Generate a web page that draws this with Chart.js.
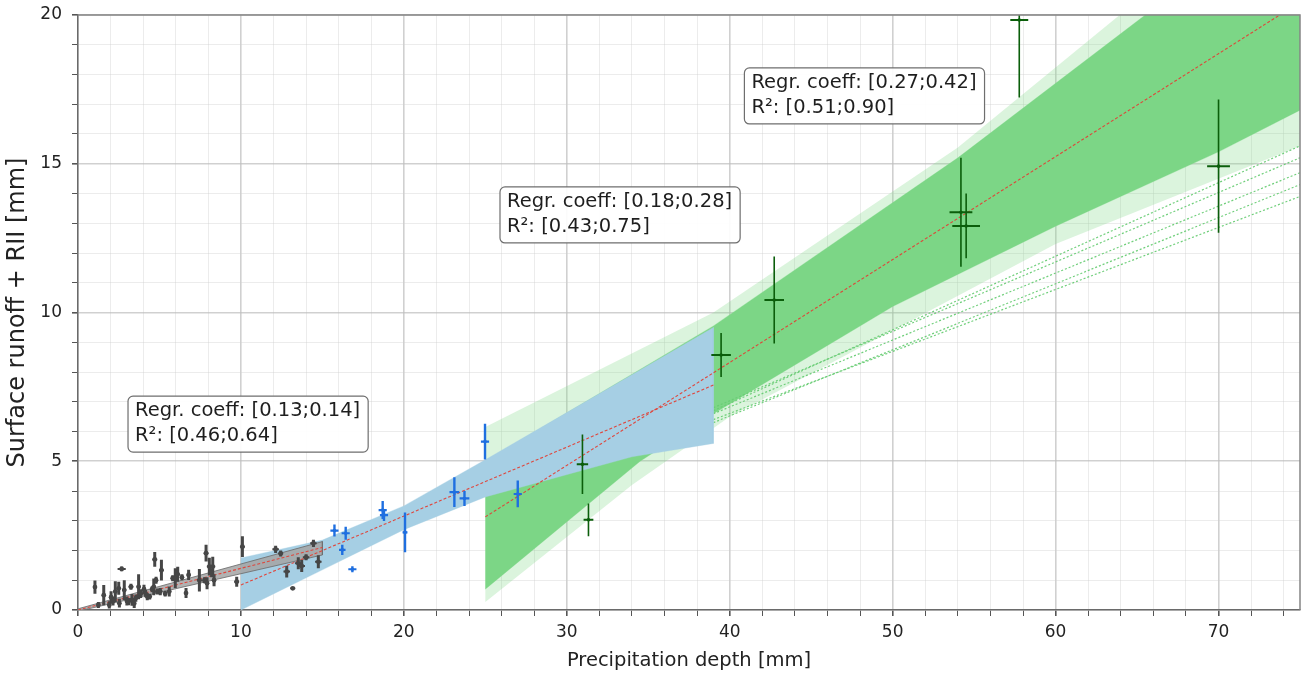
<!DOCTYPE html>
<html>
<head>
<meta charset="utf-8">
<script src="https://cdn.jsdelivr.net/npm/chart.js@4.4.1/dist/chart.umd.min.js"></script>
<style>
  html, body { margin: 0; padding: 0; background: #fff; }
  #wrap { width: 1306px; height: 678px; }
</style>
</head>
<body>
<div id="wrap"><canvas id="app-chart"></canvas></div>
<script>
// ---------------------------------------------------------------------------
// Data
// ---------------------------------------------------------------------------

// axis ticks
var xMajorTicks = [0, 10, 20, 30, 40, 50, 60, 70];
var yMajorTicks = [0, 5, 10, 15, 20];

// small events (grey)
var greyX    = [1.04, 1.25, 1.58, 1.92, 2.03, 2.15, 2.29, 2.50, 2.54, 2.68, 2.84, 3.00, 3.10, 3.25, 3.31, 3.45, 3.55, 3.72, 3.85, 4.05,
                4.15, 4.25, 4.40, 4.55, 4.65, 4.71, 4.79, 4.87, 5.05, 5.12, 5.35, 5.60, 5.81, 5.97, 6.12, 6.38, 6.63, 6.79, 7.45, 7.76,
                7.86, 7.92, 8.06, 8.20, 8.27, 8.35, 9.74, 10.09, 12.13, 12.44, 12.81, 13.18, 13.52, 13.73, 14.00, 14.45, 14.75];
var greyY    = [0.77, 0.17, 0.50, 0.17, 0.43, 0.30, 0.62, 0.73, 0.23, 1.38, 0.67, 0.30, 0.28, 0.78, 0.34, 0.22, 0.40, 0.78, 0.55, 0.70,
                0.55, 0.45, 0.45, 0.70, 0.78, 1.70, 1.00, 0.62, 0.62, 1.34, 0.55, 0.62, 1.07, 1.07, 1.20, 1.10, 0.57, 1.18, 1.00, 1.00,
                1.91, 0.90, 1.46, 1.25, 1.46, 1.00, 0.95, 2.13, 2.04, 1.90, 1.29, 0.73, 1.57, 1.48, 1.77, 2.24, 1.62];
var greyErrY = [0.22, 0.10, 0.34, 0.12, 0.20, 0.15, 0.35, 0.22, 0.15, 0.08, 0.33, 0.15, 0.12, 0.10, 0.20, 0.15, 0.12, 0.42, 0.15, 0.15,
                0.12, 0.12, 0.10, 0.10, 0.28, 0.25, 0.12, 0.10, 0.12, 0.35, 0.10, 0.17, 0.10, 0.33, 0.25, 0.10, 0.17, 0.17, 0.38, 0.10,
                0.28, 0.20, 0.30, 0.15, 0.33, 0.20, 0.17, 0.35, 0.12, 0.10, 0.20, 0.00, 0.20, 0.20, 0.10, 0.12, 0.22];
var greyErrX = [0.12, 0.10, 0.12, 0.10, 0.12, 0.10, 0.12, 0.12, 0.10, 0.25, 0.12, 0.10, 0.10, 0.15, 0.12, 0.10, 0.10, 0.12, 0.10, 0.12,
                0.10, 0.10, 0.10, 0.10, 0.12, 0.15, 0.12, 0.10, 0.10, 0.15, 0.10, 0.12, 0.10, 0.15, 0.12, 0.10, 0.12, 0.12, 0.15, 0.10,
                0.15, 0.10, 0.15, 0.10, 0.15, 0.10, 0.15, 0.15, 0.20, 0.15, 0.20, 0.15, 0.20, 0.20, 0.20, 0.20, 0.20];

// medium events (blue)
var blueX    = [15.74, 16.22, 16.43, 16.84, 18.70, 18.78, 20.07, 23.10, 23.72, 24.98, 26.99];
var blueY    = [2.67, 2.02, 2.58, 1.37, 3.36, 3.19, 2.61, 3.96, 3.75, 5.66, 3.90];
var blueErrY = [0.20, 0.17, 0.22, 0.10, 0.30, 0.20, 0.67, 0.50, 0.25, 0.60, 0.45];
var blueErrX = [0.25, 0.20, 0.25, 0.25, 0.25, 0.25, 0.15, 0.30, 0.30, 0.25, 0.25];

// large events (green)
var greenX    = [30.96, 31.33, 39.47, 42.73, 54.19, 54.51, 57.77, 70.00];
var greenY    = [4.90, 3.03, 8.57, 10.42, 13.37, 12.91, 19.83, 14.92];
var greenErrY = [1.00, 0.55, 0.74, 1.46, 1.83, 1.09, 2.60, 2.24];
var greenErrX = [0.35, 0.30, 0.60, 0.60, 0.70, 0.85, 0.55, 0.70];

// regression envelopes (outline of each band, upper edge then lower edge)
var greyBand  = [[0, 0.04], [15, 2.3], [15, 1.85], [0, -0.04]];
var blueBand  = [[10, 1.75], [15, 2.35], [20, 3.5], [25, 5.05], [39, 9.5],
                 [39, 5.6], [34, 5.15], [25, 3.8], [20, 2.7], [15, 1.35], [10, 0.0]];
var greenBand = [[25, 5.0], [39, 9.55], [54, 15.2], [65.5, 20], [75, 24.2],
                 [75, 16.8], [70, 15.4], [60, 12.9], [50, 10.2], [39, 6.6], [34.5, 5.0], [25, 0.7]];
var greenFringe = [[25, 6.15], [39, 10.0], [54, 15.55], [64.6, 20.3], [75, 24.8],
                   [75, 15.6], [60, 12.3], [40, 6.5], [34, 4.2], [25, 0.27]];
var greenOutliers = [
    [[39, 6.4], [75, 13.9]],
    [[39, 6.3], [75, 14.3]],
    [[39, 6.6], [75, 14.7]],
    [[39, 6.8], [75, 15.2]],
    [[39, 6.7], [75, 15.6]]
];

// median regression lines
var greyFit  = [[0, 0], [15, 2.1]];
var blueFit  = [[10, 0.84], [39, 7.56]];
var greenFit = [[25, 3.13], [75, 20.43]];

// text boxes (top-left corner in data units)
var notes = [
    { x: 3.07, y: 7.19, lines: ['Regr. coeff: [0.13;0.14]', 'R\u00b2: [0.46;0.64]'] },
    { x: 25.9, y: 14.22, lines: ['Regr. coeff: [0.18;0.28]', 'R\u00b2: [0.43;0.75]'] },
    { x: 40.9, y: 18.22, lines: ['Regr. coeff: [0.27;0.42]', 'R\u00b2: [0.51;0.90]'] }
];

// ---------------------------------------------------------------------------
// Helpers
// ---------------------------------------------------------------------------

function toPoints(pairs) {
    return pairs.map(function(p) { return { x: p[0], y: p[1] }; });
}

function verticalBars(xs, ys, errs) {
    var pts = [];
    xs.forEach(function(x, i) {
        pts.push({ x: x, y: ys[i] - errs[i] }, { x: x, y: ys[i] + errs[i] }, { x: x, y: null });
    });
    return pts;
}

function horizontalBars(xs, ys, errs) {
    var pts = [];
    xs.forEach(function(x, i) {
        pts.push({ x: x - errs[i], y: ys[i] }, { x: x + errs[i], y: ys[i] }, { x: null, y: ys[i] });
    });
    return pts;
}

function markers(xs, ys) {
    return xs.map(function(x, i) { return { x: x, y: ys[i] }; });
}

function shape(pairs, fillColor, edgeColor, width, order) {
    return {
        data: toPoints(pairs), showLine: true, fill: 'shape',
        backgroundColor: fillColor, borderColor: edgeColor, borderWidth: width,
        pointRadius: 0, order: order
    };
}

function segments(points, color, width, order, dash) {
    return {
        data: points, showLine: true, fill: false, spanGaps: false,
        borderColor: color, borderWidth: width, borderDash: dash || [],
        pointRadius: 0, order: order
    };
}

function dots(points, color, radius, order) {
    return {
        data: points, showLine: false,
        backgroundColor: color, borderColor: color, borderWidth: 0,
        pointRadius: radius, order: order
    };
}

var GREY = '#464646', BLUE = '#1f6fe0', GREEN = '#0b5e0b', RED = 'rgba(226,64,54,0.95)';

var datasets = [
    dots(markers(greyX, greyY), GREY, 2.4, 0),
    segments(verticalBars(greyX, greyY, greyErrY), GREY, 3, 0),
    segments(horizontalBars(greyX, greyY, greyErrX), GREY, 2, 0),
    dots(markers(blueX, blueY), BLUE, 1.8, 0),
    segments(verticalBars(blueX, blueY, blueErrY), BLUE, 2.4, 0),
    segments(horizontalBars(blueX, blueY, blueErrX), BLUE, 2.2, 0),
    dots(markers(greenX, greenY), GREEN, 1.8, 0),
    segments(verticalBars(greenX, greenY, greenErrY), GREEN, 1.6, 0),
    segments(horizontalBars(greenX, greenY, greenErrX), GREEN, 2, 0),

    segments(toPoints(greyFit), RED, 1.1, 1, [3, 2]),
    segments(toPoints(blueFit), RED, 1.1, 1, [3, 2]),
    segments(toPoints(greenFit), RED, 1.1, 1, [3, 2]),

    shape(greyBand, 'rgba(165,165,165,0.85)', 'rgba(110,110,110,0.85)', 1, 2),
    shape(blueBand, 'rgb(166,207,228)', 'rgba(166,207,228,0.6)', 0.6, 3),
    shape(greenBand, 'rgb(124,214,134)', 'rgba(124,214,134,0.5)', 0.6, 5),
    shape(greenFringe, 'rgba(124,214,134,0.28)', 'rgba(124,214,134,0)', 0, 6)
];

greenOutliers.forEach(function(l) {
    datasets.push(segments(toPoints(l), 'rgba(104,204,116,0.95)', 1.2, 4, [2, 2]));
});

// ---------------------------------------------------------------------------
// Frame and text boxes
// ---------------------------------------------------------------------------

var notesPlugin = {
    id: 'notes',
    afterDraw: function(chart) {
        var ctx = chart.ctx, a = chart.chartArea, sx = chart.scales.x, sy = chart.scales.y;
        ctx.save();
        ctx.strokeStyle = '#858585';
        ctx.lineWidth = 1.5;
        ctx.beginPath();
        ctx.moveTo(a.left, a.top);
        ctx.lineTo(a.right, a.top);
        ctx.lineTo(a.right, a.bottom);
        ctx.stroke();

        ctx.font = '19.5px "DejaVu Sans"';
        ctx.textBaseline = 'middle';
        notes.forEach(function(n) {
            var px = sx.getPixelForValue(n.x), py = sy.getPixelForValue(n.y);
            var w = Math.max.apply(null, n.lines.map(function(t) { return ctx.measureText(t).width; })) + 15;
            var h = 56;
            ctx.beginPath();
            ctx.roundRect(px, py, w, h, 5);
            ctx.fillStyle = 'rgba(255,255,255,0.92)';
            ctx.fill();
            ctx.strokeStyle = '#6e6e6e';
            ctx.lineWidth = 1.2;
            ctx.stroke();
            ctx.fillStyle = '#1e1e1e';
            n.lines.forEach(function(t, i) {
                ctx.fillText(t, px + 7, py + 15 + i * 25);
            });
        });
        ctx.restore();
    }
};

// ---------------------------------------------------------------------------
// Chart
// ---------------------------------------------------------------------------

function steps(max, step) {
    var out = [];
    for (var v = 0; v <= max + 1e-9; v += step) out.push(Math.round(v * 100) / 100);
    return out;
}

function gridColor(majors) {
    return function(c) {
        if (!c.tick) return 'rgba(0,0,0,0)';
        return majors.indexOf(c.tick.value) >= 0 ? 'rgba(190,190,190,0.72)' : 'rgba(205,205,205,0.38)';
    };
}

function gridWidth(majors) {
    return function(c) {
        if (!c.tick) return 1;
        return majors.indexOf(c.tick.value) >= 0 ? 1.6 : 1;
    };
}

var tickFont = { family: '"DejaVu Sans"', size: 17 };

new Chart(document.getElementById('app-chart'), {
    type: 'scatter',
    data: { datasets: datasets },
    plugins: [notesPlugin],
    options: {
        responsive: true,
        maintainAspectRatio: false,
        animation: false,
        layout: { autoPadding: false, padding: { top: 15, right: 6, left: 0, bottom: 0 } },
        plugins: {
            legend: { display: false },
            tooltip: { enabled: false }
        },
        scales: {
            x: {
                type: 'linear', min: 0, max: 75, z: 1,
                afterBuildTicks: function(scale) {
                    scale.ticks = steps(74, 2).map(function(v) { return { value: v }; });
                },
                afterFit: function(scale) {
                    scale.height = 68;
                    scale.paddingLeft = 0;
                    scale.paddingRight = 0;
                },
                ticks: {
                    autoSkip: false, maxRotation: 0, padding: 6, color: '#222', font: tickFont,
                    callback: function(v) { return xMajorTicks.indexOf(v) >= 0 ? String(v) : ''; }
                },
                grid: {
                    color: gridColor(xMajorTicks), lineWidth: gridWidth(xMajorTicks),
                    tickColor: '#555', tickLength: 6, tickWidth: gridWidth(xMajorTicks)
                },
                border: { display: true, color: '#6a6a6a', width: 1.5 },
                title: {
                    display: true, text: 'Precipitation depth [mm]', color: '#222',
                    font: { family: '"DejaVu Sans"', size: 19.5 }, padding: { top: 0, bottom: 5 }
                }
            },
            y: {
                type: 'linear', min: 0, max: 20, z: 1,
                afterBuildTicks: function(scale) {
                    scale.ticks = steps(20, 1).map(function(v) { return { value: v }; });
                },
                afterFit: function(scale) {
                    scale.width = 78;
                    scale.paddingTop = 0;
                    scale.paddingBottom = 0;
                },
                ticks: {
                    autoSkip: false, padding: 10, color: '#222', font: tickFont,
                    callback: function(v) { return yMajorTicks.indexOf(v) >= 0 ? String(v) : ''; }
                },
                grid: {
                    color: gridColor(yMajorTicks), lineWidth: gridWidth(yMajorTicks),
                    tickColor: '#555', tickLength: 6, tickWidth: gridWidth(yMajorTicks)
                },
                border: { display: true, color: '#6a6a6a', width: 1.5 },
                title: {
                    display: true, text: 'Surface runoff + RII [mm]', color: '#222',
                    font: { family: '"DejaVu Sans"', size: 24 }, padding: { top: 3, bottom: 0 }
                }
            }
        }
    }
});
</script>
</body>
</html>
